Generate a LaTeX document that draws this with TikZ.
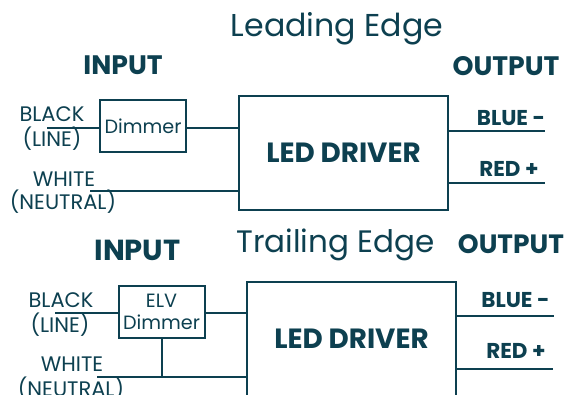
\documentclass[tikz,border=0pt]{standalone}
\usepackage{fontspec}
\setmainfont{Poppins}
\definecolor{ink}{HTML}{0D4050}
\newcommand\fsz[1]{\fontsize{#1}{#1}\selectfont}
\begin{document}
\begin{tikzpicture}[x=1pt,y=-1pt,
  every node/.style={text=ink,inner sep=0pt,outer sep=0pt},
  lbl/.style={anchor=base},
  title/.style={lbl},
  head/.style={lbl,font=\bfseries\fsz{26.7}},
  wirelbl/.style={lbl,font=\fsz{21}},
  outlbl/.style={lbl,font=\bfseries\fsz{21.5}},
  dimbox/.style={draw=ink,line width=2pt,minimum width=86pt,minimum height=52pt,font=\fontsize{19.2}{22.3}\selectfont,align=center},
  drvbox/.style={draw=ink,line width=2pt,minimum width=209pt,minimum height=114pt,font=\bfseries\fsz{27.8}},
  wire/.style={draw=ink,line width=2pt}]
\useasboundingbox[fill=white] (0,0) rectangle (568,395);
% ---------- Leading edge ----------
\node[title,font=\fsz{31.6}] (t1) at (337,36.7) {Leading Edge};
\node[head] (in1) at (123,75) {INPUT};
\node[head] (out1) at (506,76) {OUTPUT};
\node[wirelbl] (blk1) at (52,121.7) {BLACK};
\node[wirelbl] (lin1) at (52,146.5) {(LINE)};
\node[wirelbl] (wht1) at (64,186.5) {WHITE};
\node[wirelbl] (neu1) at (63,210) {(NEUTRAL)};
\node[dimbox] (dim1) at (143,126) {Dimmer};
\node[drvbox] (drv1) at (343.5,153) {LED DRIVER};
\coordinate (b1) at (47,127.7);
\coordinate (w1) at (90,190.7);
\coordinate (o1a) at (545,131);
\coordinate (o1b) at (545,182.7);
\node[outlbl] (blue1) at (511,126) {BLUE -};
\node[outlbl] (red1) at (509,177) {RED +};
\draw[wire] (b1) -- (b1 -| dim1.west);
\draw[wire] (dim1.east |- b1) -- (drv1.west |- b1);
\draw[wire] (w1) -- (drv1.west |- w1);
\draw[wire] (drv1.east |- o1a) -- (o1a);
\draw[wire] (drv1.east |- o1b) -- (o1b);
% ---------- Trailing edge ----------
\node[title,font=\fsz{31}] (t2) at (335.5,253) {Trailing Edge};
\node[head,font=\bfseries\fsz{29}] (in2) at (137.5,260.7) {INPUT};
\node[head,font=\bfseries\fsz{26.5}] (out2) at (511,253.3) {OUTPUT};
\node[wirelbl] (blk2) at (61,307.7) {BLACK};
\node[wirelbl] (lin2) at (60,332.7) {(LINE)};
\node[wirelbl] (wht2) at (72,371.7) {WHITE};
\node[wirelbl] (neu2) at (71,396) {(NEUTRAL)};
\node[dimbox] (dim2) at (161.5,312) {ELV\\Dimmer};
\node[drvbox] (drv2) at (351.5,339) {LED DRIVER};
\coordinate (b2) at (55,312.7);
\coordinate (w2) at (97,376.7);
\coordinate (o2a) at (554,316);
\coordinate (o2b) at (553,369);
\node[outlbl] (blue2) at (515.5,307.3) {BLUE -};
\node[outlbl] (red2) at (516,358.3) {RED +};
\draw[wire] (b2) -- (b2 -| dim2.west);
\draw[wire] (dim2.east |- b2) -- (drv2.west |- b2);
\draw[wire] (w2) -- (drv2.west |- w2);
\draw[wire] (dim2.south) -- (dim2.south |- w2);
\draw[wire] (drv2.east |- o2a) -- (o2a);
\draw[wire] (drv2.east |- o2b) -- (o2b);
\end{tikzpicture}
\end{document}
